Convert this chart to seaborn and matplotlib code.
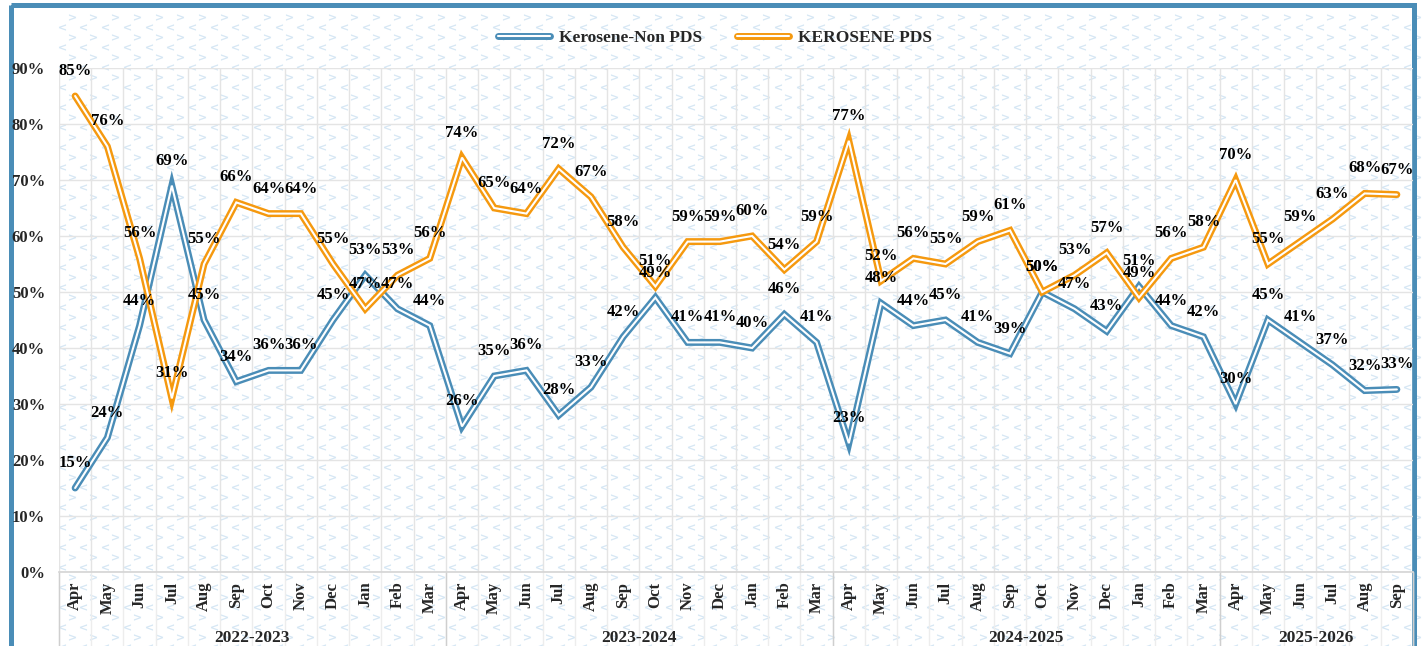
import numpy as np
import pandas as pd
import matplotlib
matplotlib.use("Agg")
import matplotlib.pyplot as plt
import matplotlib.patheffects as pe
from matplotlib.patches import Rectangle
import seaborn as sns

# --- data -------------------------------------------------------------------
months = ["Apr", "May", "Jun", "Jul", "Aug", "Sep", "Oct", "Nov", "Dec", "Jan", "Feb", "Mar"]
fiscal_years = ["2022-2023", "2023-2024", "2024-2025", "2025-2026"]
months_per_year = [12, 12, 12, 6]

non_pds = [15, 24, 44, 69, 45, 34, 36, 36, 45, 53, 47, 44,
           26, 35, 36, 28, 33, 42, 49, 41, 41, 40, 46, 41,
           23, 48, 44, 45, 41, 39, 50, 47, 43, 51, 44, 42,
           30, 45, 41, 37, 32.4, 32.6]
pds = [85, 76, 56, 31, 55, 66, 64, 64, 55, 47, 53, 56,
       74, 65, 64, 72, 67, 58, 51, 59, 59, 60, 54, 59,
       77, 52, 56, 55, 59, 61, 50, 53, 57, 49, 56, 58,
       70, 55, 59, 63, 67.6, 67.4]

BLUE = "#4A8DB7"
ORANGE = "#F5990F"
FS = 12

month_labels = [m for n in months_per_year for m in months[:n]]
df = pd.DataFrame({"idx": np.arange(len(month_labels)), "month": month_labels,
                   "non_pds": non_pds, "pds": pds})

sns.set_theme(style="white")
plt.rcParams["font.family"] = ["Liberation Serif", "DejaVu Serif"]
plt.rcParams["font.weight"] = "bold"

W, H = 1422, 646
fig = plt.figure(figsize=(W / 100, H / 100), dpi=100, facecolor="white")

# ── background pattern + blue frame ─────────────────────────────────────────
bg = fig.add_axes([0, 0, 1, 1], zorder=0)
bg.set_xlim(0, W); bg.set_ylim(H, 0); bg.axis("off")
gx, gy = np.meshgrid(np.arange(71.7, W, 21.7), np.arange(16.7, H, 20))
bg.scatter(gx.ravel(), gy.ravel(), marker="$>$", s=26, color="#d6e7f4", linewidths=0)
bg.scatter(gx.ravel() - 10, gy.ravel() + 10, marker="$<$", s=26, color="#d6e7f4", linewidths=0)
bg.add_patch(Rectangle((10.5, 5), 1403, 700, fill=False, edgecolor=BLUE, lw=3.6, clip_on=False))

# ── main axes ───────────────────────────────────────────────────────────────
ax = fig.add_axes([59 / W, 1 - 572 / H, (1413 - 59) / W, (572 - 68) / H], zorder=1)
ax.set_facecolor("none")

for col, color, label in [("non_pds", BLUE, "Kerosene-Non PDS"), ("pds", ORANGE, "KEROSENE PDS")]:
    sns.lineplot(data=df, x="idx", y=col, ax=ax, color="white", linewidth=1.5,
                 solid_joinstyle="miter", label=label,
                 path_effects=[pe.Stroke(linewidth=5.0, foreground=color), pe.Normal()])
    for i, v in zip(df["idx"], df[col]):
        ax.annotate(f"{v:.0f}%", (i, v), xytext=(0, 18), textcoords="offset points",
                    ha="center", va="center", fontsize=FS, fontweight="bold", color="black")

ax.set_xlim(-0.5, len(df) - 0.5)
ax.set_ylim(0, 90)
ax.set_yticks(np.arange(0, 91, 10))
ax.set_yticklabels([f"{t}%" for t in range(0, 91, 10)], fontsize=FS, fontweight="bold")
ax.set_xticks(df["idx"])
ax.set_xticklabels(df["month"], rotation=90, fontsize=FS, fontweight="bold", va="top")
ax.set_xticks(np.arange(-0.5, len(df), 1), minor=True)
ax.tick_params(axis="both", which="both", length=0)
ax.tick_params(axis="y", pad=10)
ax.tick_params(axis="x", pad=7)
ax.grid(which="minor", axis="x", color="#e4e4e4", lw=1)
ax.grid(which="major", axis="y", color="#e4e4e4", lw=1)
ax.grid(which="major", axis="x", visible=False)
ax.set_xlabel(""); ax.set_ylabel("")
for s in ["top", "right", "left"]:
    ax.spines[s].set_visible(False)
ax.spines["bottom"].set_color("#d6d6d6")

# month lines through the label area, darker at fiscal year breaks
bounds = np.cumsum([0] + months_per_year) - 0.5
for b in np.arange(-0.5, len(df), 1):
    ax.axvline(b, ymin=-0.15, ymax=0, color="#ededed", lw=1, clip_on=False)
for b in bounds:
    ax.axvline(b, ymin=-0.15, ymax=0, color="#cfcfcf", lw=1, clip_on=False)
for fy, lo, hi in zip(fiscal_years, bounds[:-1], bounds[1:]):
    ax.text((lo + hi) / 2, -0.131, fy, transform=ax.get_xaxis_transform(),
            ha="center", va="center", fontsize=12.5, fontweight="bold")

handles, labels = ax.get_legend_handles_labels()
if ax.get_legend() is not None:
    ax.get_legend().remove()
fig.legend(handles, labels, loc="center", bbox_to_anchor=(715 / W, 1 - 38 / H), ncol=2,
           frameon=False, handlelength=3.0, handletextpad=0.5, columnspacing=2.0,
           prop={"size": 12.5, "weight": "bold"})

fig.savefig("out.png", dpi=100, facecolor="white")
